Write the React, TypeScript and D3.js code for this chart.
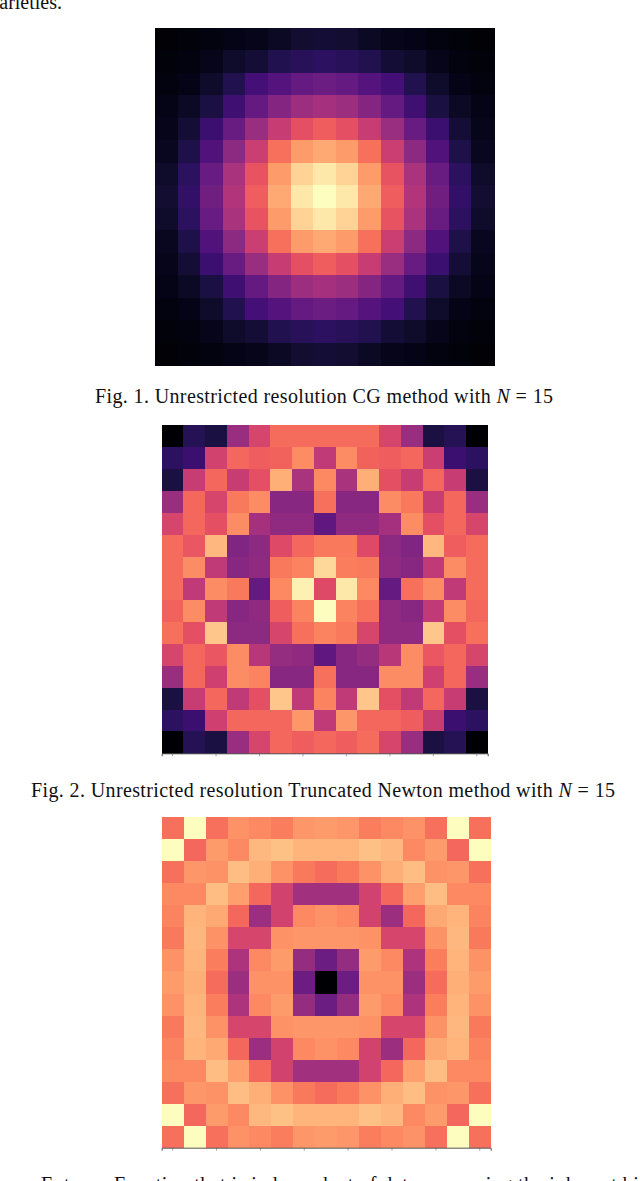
import React, { useEffect, useRef } from "react";
import * as d3 from "d3";

const WIDTH = 640;
const HEIGHT = 1181;

const cgValues = [
  [1, 2, 3, 4, 5, 7, 9, 10, 9, 7, 5, 4, 3, 2, 1],
  [2, 3, 5, 8, 10, 14, 16, 17, 16, 14, 10, 8, 5, 3, 2],
  [3, 4, 8, 14, 22, 26, 30, 32, 30, 26, 22, 14, 8, 4, 3],
  [4, 7, 12, 21, 30, 38, 44, 46, 44, 38, 30, 21, 12, 7, 4],
  [5, 10, 20, 31, 43, 54, 62, 66, 62, 54, 43, 31, 20, 10, 5],
  [6, 13, 25, 40, 55, 70, 79, 82, 79, 70, 55, 40, 25, 13, 6],
  [8, 17, 31, 47, 63, 79, 91, 95, 91, 79, 63, 47, 31, 17, 8],
  [9, 18, 33, 49, 66, 82, 95, 100, 95, 82, 66, 49, 33, 18, 9],
  [8, 17, 31, 47, 63, 79, 91, 95, 91, 79, 63, 47, 31, 17, 8],
  [6, 13, 25, 40, 55, 70, 79, 82, 79, 70, 55, 40, 25, 13, 6],
  [5, 10, 20, 31, 43, 54, 62, 66, 62, 54, 43, 31, 20, 10, 5],
  [4, 7, 12, 21, 30, 38, 44, 46, 44, 38, 30, 21, 12, 7, 4],
  [3, 4, 8, 14, 22, 26, 30, 32, 30, 26, 22, 14, 8, 4, 3],
  [2, 3, 5, 8, 10, 14, 16, 17, 16, 14, 10, 8, 5, 3, 2],
  [1, 2, 3, 4, 5, 7, 9, 10, 9, 7, 5, 4, 3, 2, 1],
];

const newtonValues = [
  [0, 15, 12, 43, 58, 69, 69, 69, 69, 69, 58, 43, 12, 15, 0],
  [17, 20, 57, 68, 66, 67, 76, 52, 76, 67, 66, 68, 55, 20, 17],
  [12, 54, 68, 54, 62, 83, 47, 75, 47, 83, 62, 54, 68, 54, 12],
  [43, 68, 58, 72, 76, 39, 39, 70, 39, 39, 76, 72, 54, 68, 43],
  [58, 68, 62, 76, 46, 41, 41, 29, 41, 41, 46, 76, 62, 68, 58],
  [69, 64, 85, 37, 40, 60, 68, 72, 72, 60, 40, 37, 85, 66, 69],
  [69, 76, 52, 39, 41, 72, 74, 92, 73, 72, 41, 39, 52, 76, 69],
  [69, 52, 76, 72, 30, 75, 97, 60, 95, 75, 30, 70, 76, 52, 69],
  [67, 76, 52, 39, 41, 66, 74, 100, 74, 70, 41, 39, 52, 76, 68],
  [70, 62, 88, 40, 40, 58, 70, 74, 72, 58, 41, 41, 88, 62, 70],
  [58, 68, 64, 76, 50, 42, 41, 29, 39, 42, 50, 76, 64, 68, 58],
  [43, 68, 56, 76, 74, 39, 39, 70, 39, 39, 76, 76, 56, 68, 43],
  [12, 54, 68, 52, 62, 88, 52, 74, 52, 88, 62, 52, 68, 54, 12],
  [17, 20, 56, 68, 68, 68, 78, 52, 78, 68, 68, 66, 54, 20, 17],
  [0, 15, 12, 43, 58, 68, 66, 68, 66, 69, 58, 43, 12, 15, 0],
];

const entropyValues = [
  [70, 100, 70, 77, 75, 73, 78, 79, 78, 73, 75, 77, 70, 100, 70],
  [100, 68, 79, 75, 85, 87, 84, 84, 84, 87, 85, 75, 79, 68, 100],
  [70, 78, 77, 86, 83, 77, 72, 69, 72, 77, 83, 86, 77, 78, 70],
  [75, 75, 86, 80, 68, 57, 45, 45, 45, 57, 68, 80, 86, 75, 75],
  [74, 84, 82, 68, 44, 57, 75, 77, 75, 57, 44, 68, 82, 84, 74],
  [72, 85, 77, 58, 58, 77, 78, 78, 78, 77, 58, 58, 77, 85, 72],
  [77, 84, 73, 48, 75, 79, 42, 32, 42, 79, 75, 48, 73, 84, 77],
  [79, 83, 69, 44, 77, 77, 32, 0, 32, 77, 77, 44, 69, 83, 79],
  [77, 84, 73, 48, 75, 79, 42, 32, 42, 79, 75, 48, 73, 84, 77],
  [72, 85, 77, 58, 58, 77, 78, 78, 78, 77, 58, 58, 77, 85, 72],
  [74, 84, 82, 68, 44, 57, 75, 77, 75, 57, 44, 68, 82, 84, 74],
  [75, 75, 86, 80, 68, 57, 45, 45, 45, 57, 68, 80, 86, 75, 75],
  [70, 78, 77, 86, 83, 77, 72, 69, 72, 77, 83, 86, 77, 78, 70],
  [100, 68, 79, 75, 85, 87, 84, 84, 84, 87, 85, 75, 79, 68, 100],
  [70, 100, 70, 77, 75, 73, 78, 79, 78, 73, 75, 77, 70, 100, 70],
];

const tickCells = [0, 2, 4, 6, 8, 10, 12, 14];

const App = () => {
  const ref = useRef<SVGGElement>(null);

  useEffect(() => {
    const svg = d3.select(ref.current);
    svg.selectAll("*").remove();

    const color = d3.scaleSequential(d3.interpolateMagma).domain([0, 100]);

    const drawHeatmap = (values: number[][], x0: number, x1: number, y0: number, y1: number, ticks: boolean) => {
      const cells = d3.range(values.length);
      const x = d3.scaleBand<number>().domain(cells).range([x0, x1]);
      const y = d3.scaleBand<number>().domain(cells).range([y0, y1]);
      const g = svg.append("g").attr("shape-rendering", "crispEdges");

      values.forEach((row, r) => {
        g.selectAll(null)
          .data(row)
          .enter()
          .append("rect")
          .attr("x", (_, c) => x(c) as number)
          .attr("y", y(r) as number)
          .attr("width", x.bandwidth() + 0.5)
          .attr("height", y.bandwidth() + 0.5)
          .attr("fill", d => color(d));
      });

      if (ticks) {
        const axis = d3
          .axisBottom(x)
          .tickValues(tickCells)
          .tickSize(3)
          .tickFormat(() => "");
        const a = svg.append("g").attr("transform", `translate(0,${y1})`).call(axis);
        a.selectAll("path").attr("stroke", "#555").attr("stroke-width", 1);
        a.selectAll("line").attr("stroke", "#666").attr("stroke-width", 0.6);
      }
    };

    drawHeatmap(cgValues, 155, 494, 28, 365, false);
    drawHeatmap(newtonValues, 161.7, 487.7, 425.3, 753.3, true);
    drawHeatmap(entropyValues, 161.7, 490.7, 817.3, 1147.7, true);
  }, []);

  const textStyle = { fontFamily: "'Liberation Serif', serif", fontSize: 20, fill: "#111" };

  const caption = (x: number, y: number, num: string, width: number, lead: string) => (
    <text x={x} y={y} style={textStyle} textLength={width} lengthAdjust="spacing">
      {lead} <tspan fontStyle="italic">N</tspan> = {num}
    </text>
  );

  return (
    <svg
      width={WIDTH}
      height={HEIGHT}
      style={{ position: "absolute", left: 0, top: 0, background: "#fff" }}
    >
      <g ref={ref} />
      <text x={62} y={9} textAnchor="end" style={textStyle}>varieties.</text>
      {caption(95, 403, "15", 458, "Fig. 1. Unrestricted resolution CG method with")}
      {caption(31, 797, "15", 584, "Fig. 2. Unrestricted resolution Truncated Newton method with")}
      <text x={41} y={1191} style={textStyle} textLength={612} lengthAdjust="spacing">
        Entropy Function that is independent of data comparing the ink-cost bits
      </text>
    </svg>
  );
};

export default App;
